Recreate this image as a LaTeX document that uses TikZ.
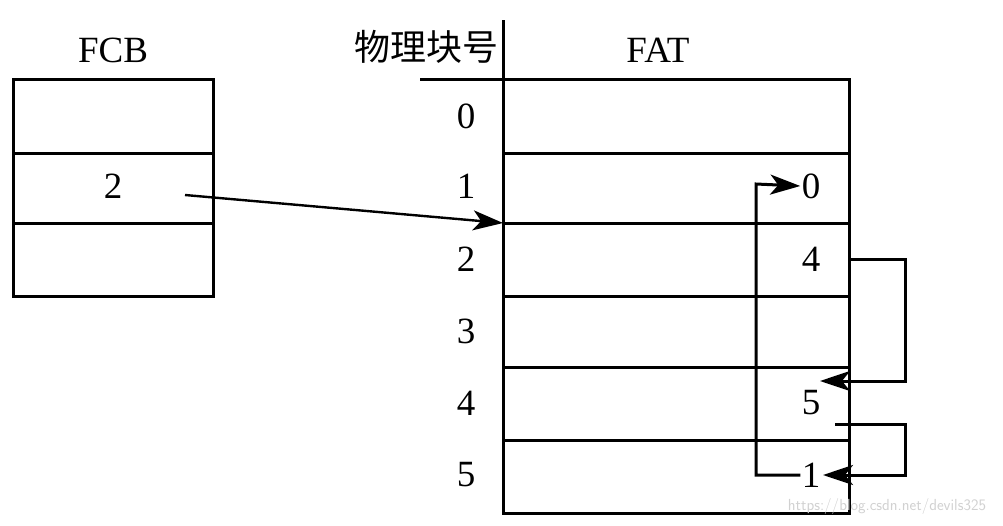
\documentclass[tikz,border=0pt]{standalone}
\usepackage{fontspec}
\setmainfont{Liberation Serif}
\newfontfamily\cjk{Noto Sans CJK SC}
\usetikzlibrary{arrows.meta}
\begin{document}
\begin{tikzpicture}[x=1pt,y=-1pt,line width=3pt,
  lbl/.style={font=\fontsize{37}{37}\selectfont,inner sep=0pt},
  arr/.style={-{Stealth[length=30pt,width=20pt,inset=8pt]}}]
\useasboundingbox (0,0) rectangle (1003,525);
% FCB
\node[lbl] (fcbt) at (113,50) {FCB};
\draw (13,79) rectangle (213,296);
\draw (13,153) -- (213,153) (13,223) -- (213,223);
\node[lbl] (f2) at (113,186) {2};
% FAT
\node[lbl] (fatt) at (658,50) {FAT};
\node[inner sep=0pt,font=\fontsize{36}{36}\selectfont\cjk] (hdr) at (426,47) {物理块号};
\draw (503,20) -- (503,513) -- (849,513) -- (849,79) -- (420,79);
\foreach \y in {153,223,296,367,440} \draw (503,\y) -- (849,\y);
\foreach \i/\y in {0/116,1/186,2/259,3/331,4/403,5/475}
  \node[lbl] (r\i) at (466,\y) {\i};
\node[lbl] (v0) at (811,186) {0};
\node[lbl] (v4) at (811,259) {4};
\node[lbl] (v5) at (811,403) {5};
\node[lbl] (v1) at (811,475) {1};
\coordinate (fs) at (185,195);
\coordinate (fe) at (503,223);
\draw[arr,line width=2.4pt] (fs) -- (fe);
\draw[arr] (849,259) -- (905,259) -- (905,381) -- (820,381);
\draw[arr] (835,424) -- (905,424) -- (905,475) -- (823,475);
\draw[arr] (v1.west) -- (756,475) -- (756,184) -- (v0.west);
\node[inner sep=0pt,text=black!18,font=\sffamily\fontsize{16}{16}\selectfont] (wm) at (887,506) {https://blog.csdn.net/devils325};
\end{tikzpicture}
\end{document}
